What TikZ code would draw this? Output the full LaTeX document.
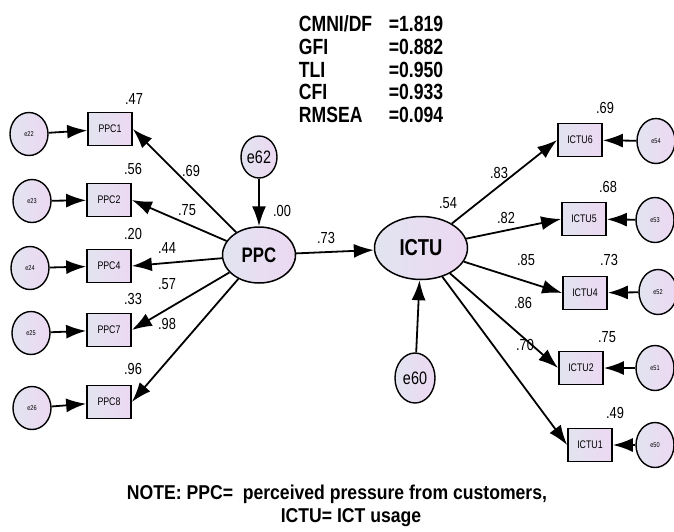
\documentclass[tikz,border=0pt]{standalone}
\usepackage{fontspec}
\setmainfont[FakeStretch=0.8]{Liberation Sans}
\newfontfamily\notefont[FakeStretch=0.88]{Liberation Sans}
\usetikzlibrary{shapes,positioning,arrows.meta}
\definecolor{lavl}{RGB}{226,228,240}
\definecolor{lavr}{RGB}{236,216,242}
\tikzstyle{latent}=[ellipse, draw, line width=1.5pt, left color=lavl, right color=lavr, inner sep=0pt]
\tikzstyle{obs}=[rectangle, draw, line width=1.7pt, left color=lavl, right color=lavr, minimum width=44pt, minimum height=33pt, inner sep=0pt, font=\fontsize{11}{11}\selectfont]
\tikzstyle{err}=[ellipse, draw, line width=1.4pt, left color=lavl, right color=lavr, minimum width=38pt, minimum height=43pt, inner sep=0pt, font=\fontsize{7}{7}\selectfont]
\tikzstyle{errl}=[err, font=\fontsize{18}{18}\selectfont]
\tikzstyle{lab}=[inner sep=0pt, font=\fontsize{16}{16}\selectfont]

\begin{document}
\begin{tikzpicture}[x=1pt,y=-1pt,-{Latex[length=20pt,width=14pt]},line width=1.8pt]
\useasboundingbox (0,0) rectangle (674,531);

%% fit indices
\node[anchor=north west, inner sep=0pt, font=\bfseries\fontsize{22}{22.7}\selectfont] (fit) at (298,15)
  {\begin{tabular}{@{}p{90pt}@{}l@{}}
   CMNI/DF & =1.819\\
   GFI & =0.882\\
   TLI & =0.950\\
   CFI & =0.933\\
   RMSEA & =0.094
   \end{tabular}};

%% left block
\node[err] (e22) at (29,134) {e22};
\node[obs] (ppc1) at (110,129) {PPC1};
\node[err] (e23) at (32,201) {e23};
\node[obs] (ppc2) at (109,200) {PPC2};
\node[err] (e24) at (30,268) {e24};
\node[obs] (ppc4) at (109,266) {PPC4};
\node[err] (e25) at (31,333) {e25};
\node[obs] (ppc7) at (109,330) {PPC7};
\node[err] (e26) at (32,408) {e26};
\node[obs] (ppc8) at (109,402) {PPC8};

\node[latent, minimum width=73pt, minimum height=56pt, font=\bfseries\fontsize{21}{21}\selectfont] (ppc) at (259,255) {PPC};
\node[errl, minimum width=36pt, minimum height=42pt] (e62) at (259,157) {e62};

%% right block
\node[latent, minimum width=93pt, minimum height=63pt, font=\bfseries\fontsize{23}{23}\selectfont] (ictu) at (421,248) {ICTU};
\node[errl, minimum width=40pt, minimum height=50pt] (e60) at (415,378) {e60};

\node[obs] (ictu6) at (580,140) {ICTU6};
\node[err, minimum height=45pt] (e54) at (656,141) {e54};
\node[obs] (ictu5) at (584,219) {ICTU5};
\node[err, minimum height=45pt] (e53) at (655,220) {e53};
\node[obs] (ictu4) at (585,293) {ICTU4};
\node[err, minimum height=45pt] (e52) at (658,292) {e52};
\node[obs] (ictu2) at (581,368) {ICTU2};
\node[err, minimum height=45pt] (e51) at (655,368) {e51};
\node[obs] (ictu1) at (590,445) {ICTU1};
\node[err, minimum height=45pt] (e50) at (655,445) {e50};

\draw (e22) -- (ppc1);
\draw (e23) -- (ppc2);
\draw (e24) -- (ppc4);
\draw (e25) -- (ppc7);
\draw (e26) -- (ppc8);
\draw (ppc) -- (ppc1.east);
\draw (ppc) -- (ppc2.east);
\draw (ppc) -- (ppc4.east);
\draw (ppc) -- (ppc7.east);
\draw (ppc) -- (ppc8.east);
\draw (e62) -- (ppc);
\draw (ppc) -- (ictu);
\draw (e60) -- (ictu);
\draw (ictu) -- (ictu6.west);
\draw (ictu) -- (ictu5.west);
\draw (ictu) -- (ictu4.west);
\draw (ictu) -- (ictu2.west);
\draw (ictu) -- (ictu1.west);
\draw (e54) -- (ictu6);
\draw (e53) -- (ictu5);
\draw (e52) -- (ictu4);
\draw (e51) -- (ictu2);
\draw (e50) -- (ictu1);

%% estimates
\node[lab] (r1) at (134,99) {.47};
\node[lab] (r2) at (133,169) {.56};
\node[lab] (r4) at (133,234) {.20};
\node[lab] (r7) at (133,299) {.33};
\node[lab] (r8) at (133,369) {.96};
\node[lab] (w1) at (191,171) {.69};
\node[lab] (w2) at (187,210) {.75};
\node[lab] (w4) at (167,248) {.44};
\node[lab] (w7) at (167,284) {.57};
\node[lab] (w8) at (167,324) {.98};
\node[lab] (rppc) at (282,211) {.00};
\node[lab] (wictu) at (326,238) {.73};
\node[lab] (rictu) at (448,203) {.54};
\node[lab] (v6) at (499,173) {.83};
\node[lab] (v5) at (506,218) {.82};
\node[lab] (v4) at (526,260) {.85};
\node[lab] (v2) at (523,303) {.86};
\node[lab] (v1) at (525,345) {.70};
\node[lab] (s6) at (605,108) {.69};
\node[lab] (s5) at (608,187) {.68};
\node[lab] (s4) at (609,260) {.73};
\node[lab] (s2) at (607,337) {.75};
\node[lab] (s1) at (615,413) {.49};

%% note
\node[anchor=base, inner sep=0pt, font=\notefont\bfseries\fontsize{20}{20}\selectfont] (note1) at (337,499) {NOTE: PPC=~ perceived pressure from customers,};
\node[anchor=base, inner sep=0pt, font=\notefont\bfseries\fontsize{20}{20}\selectfont] (note2) at (351,522) {ICTU= ICT usage};

\end{tikzpicture}
\end{document}
